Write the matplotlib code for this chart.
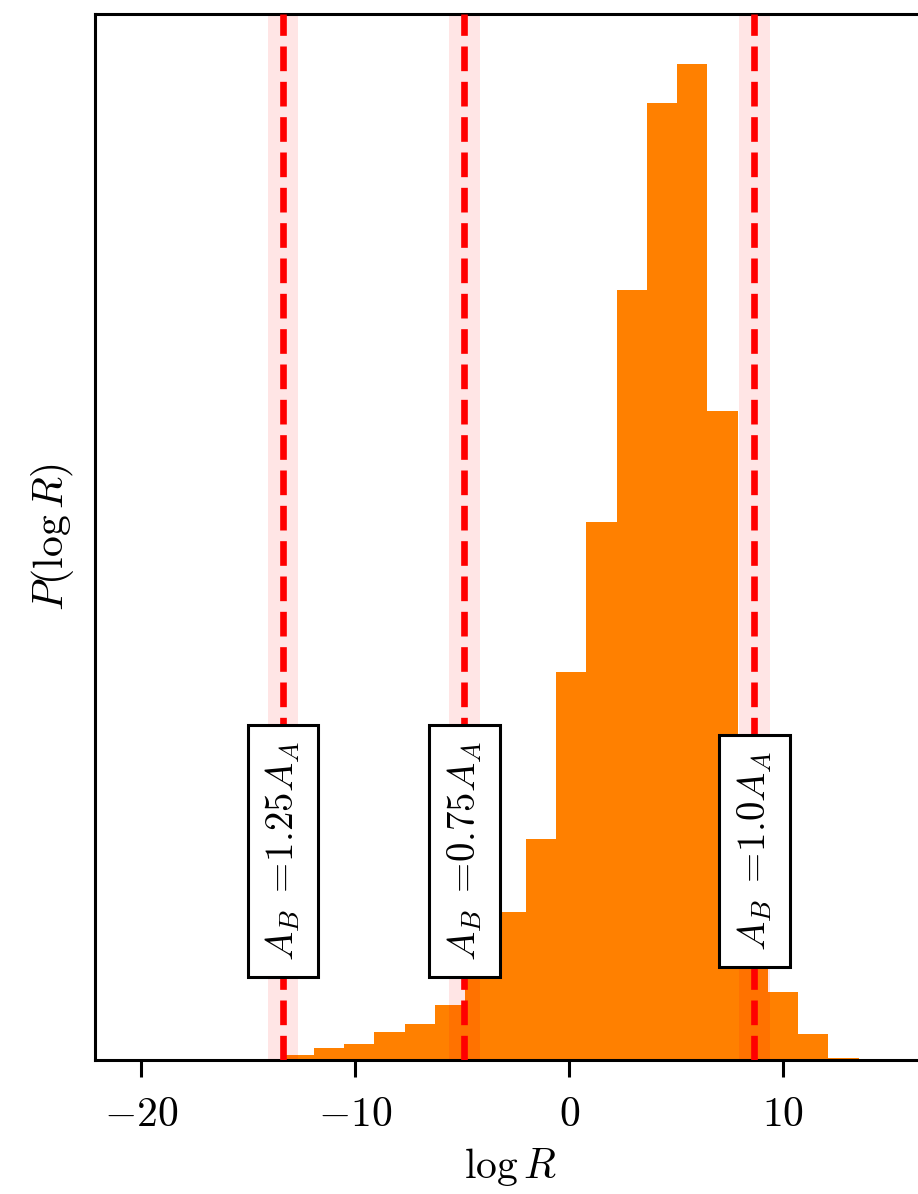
import numpy as np
import matplotlib
matplotlib.use("Agg")
import matplotlib.pyplot as plt
import matplotlib.transforms as mtransforms

plt.rcParams["mathtext.fontset"] = "cm"
plt.rcParams["font.family"] = "serif"
plt.rcParams["font.serif"] = ["DejaVu Serif"]

# Histogram of log R (normalised density per bin)
bin_edges = np.linspace(-20.4, 14.93, 26)
density = [0.0, 0.0, 0.0,
           0.00014, 0.0, 0.0007, 0.0017, 0.0022, 0.0039, 0.0050, 0.0076,
           0.0138, 0.0205, 0.0306, 0.0537, 0.0745, 0.1066, 0.1325, 0.1379,
           0.0898, 0.0132, 0.0094, 0.0036, 0.0003, 0.00014]

# Reference values of log R for each amplitude ratio, with uncertainty
ratio_labels = ["1.25", "0.75", "1.0"]
ratio_logR = [-13.37, -4.90, 8.65]
ratio_err = [0.72, 0.72, 0.72]

xticks = [-20, -10, 0, 10]
xtick_labels = [r"$-20$", r"$-10$", r"$0$", r"$10$"]

W, H, DPI = 918, 1194, 100
fig = plt.figure(figsize=(W / DPI, H / DPI), dpi=DPI)
left, right, bottom, top = 95, 925, 1060, 14
ax = fig.add_axes([left / W, (H - bottom) / H, (right - left) / W, (bottom - top) / H])

centers = 0.5 * (bin_edges[:-1] + bin_edges[1:])
ax.hist(centers, bins=bin_edges, weights=density, color="#ff8000", zorder=1)

trans = mtransforms.blended_transform_factory(ax.transData, ax.transAxes)
for lab, xv, err in zip(ratio_labels, ratio_logR, ratio_err):
    ax.axvspan(xv - err, xv + err, color="red", alpha=0.1, lw=0, zorder=2)
    ax.axvline(xv, color="red", ls="--", lw=4.8, zorder=3)
    ax.text(xv, 0.2, r"$A_B\;=\!" + lab + r"A_A$", transform=trans,
            rotation=90, ha="center", va="center", fontsize=28, zorder=5,
            bbox=dict(boxstyle="square,pad=0.41", fc="white", ec="black", lw=2.2))

ax.set_xlim(-22.15, 16.62)
ax.set_xticks(xticks)
ax.set_xticklabels(xtick_labels)
ax.set_yticks([])
ax.tick_params(axis="x", direction="out", length=12, width=2.2, pad=12, labelsize=30)
for sp in ax.spines.values():
    sp.set_linewidth(2.2)

ax.set_xlabel(r"$\log R$", fontsize=30, labelpad=8)
ax.set_ylabel(r"$P(\log R)$", fontsize=30, labelpad=14)

fig.savefig("out.png", dpi=DPI)
